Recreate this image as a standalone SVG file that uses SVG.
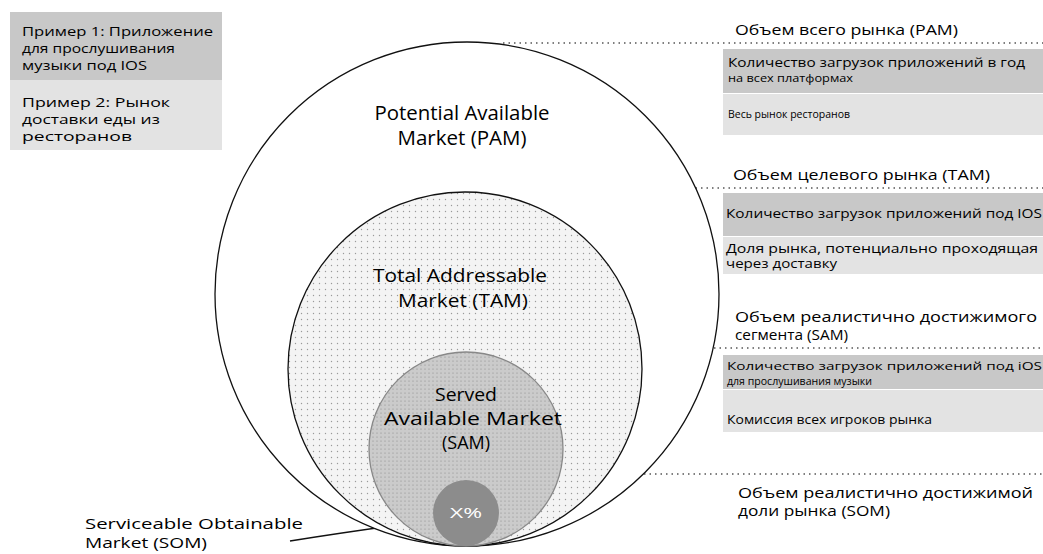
<svg xmlns="http://www.w3.org/2000/svg" width="1043" height="554" viewBox="0 0 1043 554">
<defs>
<style>
text{font-family:"Open Sans","DejaVu Sans",sans-serif;fill:#000}
.c{font-size:20px;text-anchor:middle}
.t{font-size:19px;text-anchor:middle}
.s{font-size:18px;text-anchor:middle}
.h{font-size:15px}
.b{font-size:12px}
.l{font-size:13.5px}
.dark{fill:#c8c8c8}
.light{fill:#e3e3e3}
.dot{stroke:#555;stroke-width:1.3;stroke-dasharray:1.5 4;fill:none}
</style>
<pattern id="stip" width="6" height="6" patternUnits="userSpaceOnUse">
<rect width="6" height="6" fill="#f4f4f4"/>
<circle cx="1.5" cy="1.5" r="0.7" fill="#9a9a9a"/>
</pattern>
<pattern id="stip2" width="4" height="4" patternUnits="userSpaceOnUse">
<rect width="4" height="4" fill="#cbcbcb"/>
<circle cx="1" cy="1" r="0.6" fill="#8a8a8a"/>
</pattern>
</defs>
<rect width="1043" height="554" fill="#fff"/>

<g id="examples">
<rect class="dark" x="10" y="12" width="212" height="68"/>
<rect class="light" x="10" y="80" width="212" height="70"/>
<text class="l" x="22" y="36" textLength="191" lengthAdjust="spacingAndGlyphs">Пример 1: Приложение</text>
<text class="l" x="22" y="53" textLength="153" lengthAdjust="spacingAndGlyphs">для прослушивания</text>
<text class="l" x="22" y="70" textLength="125" lengthAdjust="spacingAndGlyphs">музыки под IOS</text>
<text class="l" x="22" y="107" textLength="148" lengthAdjust="spacingAndGlyphs">Пример 2: Рынок</text>
<text class="l" x="22" y="124" textLength="138" lengthAdjust="spacingAndGlyphs">доставки еды из</text>
<text class="l" x="22" y="141" textLength="110" lengthAdjust="spacingAndGlyphs">ресторанов</text>
</g>

<g id="connectors">
<line class="dot" x1="503" y1="43" x2="1043" y2="43"/>
<line class="dot" x1="503" y1="188" x2="1043" y2="188"/>
<line class="dot" x1="483" y1="348" x2="1043" y2="348"/>
<line class="dot" x1="490" y1="474" x2="1043" y2="474"/>
<path d="M290,541 Q340,533 398,525" fill="none" stroke="#111" stroke-width="1.4"/>
</g>

<g id="pam">
<circle cx="467" cy="294" r="252" fill="#fff" stroke="#111" stroke-width="1.3"/>
<text class="c" x="462" y="120" textLength="175" lengthAdjust="spacingAndGlyphs">Potential Available</text>
<text class="c" x="462" y="145" textLength="129" lengthAdjust="spacingAndGlyphs">Market (PAM)</text>
</g>

<g id="tam">
<circle cx="465" cy="369" r="177" fill="url(#stip)" stroke="#111" stroke-width="1.3"/>
<text class="t" x="460" y="282" textLength="174" lengthAdjust="spacingAndGlyphs">Total Addressable</text>
<text class="t" x="463" y="307" textLength="130" lengthAdjust="spacingAndGlyphs">Market (TAM)</text>
</g>

<g id="sam">
<circle cx="466" cy="449" r="97" fill="url(#stip2)" stroke="#888" stroke-width="1.3"/>
<text class="s" x="466" y="401" textLength="62" lengthAdjust="spacingAndGlyphs">Served</text>
<text class="s" x="473" y="425" textLength="178" lengthAdjust="spacingAndGlyphs">Available Market</text>
<text class="s" x="466" y="449" textLength="48" lengthAdjust="spacingAndGlyphs">(SAM)</text>
</g>

<g id="som">
<circle cx="466" cy="513" r="33" fill="#8c8c8c"/>
<text x="466" y="518" style="font-size:14px;fill:#fff;text-anchor:middle" textLength="32" lengthAdjust="spacingAndGlyphs">X%</text>
</g>

<g id="som-label">
<text x="85" y="529" style="font-size:15px" textLength="218" lengthAdjust="spacingAndGlyphs">Serviceable Obtainable</text>
<text x="85" y="548" style="font-size:15px" textLength="122" lengthAdjust="spacingAndGlyphs">Market (SOM)</text>
</g>

<g id="pam-info">
<text class="h" x="735" y="35" textLength="223" lengthAdjust="spacingAndGlyphs">Объем всего рынка (PAM)</text>
<rect class="dark" x="723" y="49" width="320" height="44"/>
<rect class="light" x="723" y="94" width="320" height="41"/>
<text class="b" x="728" y="67" textLength="297" lengthAdjust="spacingAndGlyphs">Количество загрузок приложений в год</text>
<text class="b" x="728" y="82" style="font-size:11px" textLength="125" lengthAdjust="spacingAndGlyphs">на всех платформах</text>
<text class="b" x="728" y="118" style="font-size:11px" textLength="122" lengthAdjust="spacingAndGlyphs">Весь рынок ресторанов</text>
</g>

<g id="tam-info">
<text class="h" x="733" y="180" textLength="257" lengthAdjust="spacingAndGlyphs">Объем целевого рынка (TAM)</text>
<rect class="dark" x="723" y="193" width="320" height="43"/>
<rect class="light" x="723" y="237" width="320" height="37"/>
<text class="b" x="726" y="218" textLength="316" lengthAdjust="spacingAndGlyphs">Количество загрузок приложений под IOS</text>
<text class="b" x="726" y="253" textLength="312" lengthAdjust="spacingAndGlyphs">Доля рынка, потенциально проходящая</text>
<text class="b" x="726" y="268" textLength="111" lengthAdjust="spacingAndGlyphs">через доставку</text>
</g>

<g id="sam-info">
<text class="h" x="735" y="322" textLength="302" lengthAdjust="spacingAndGlyphs">Объем реалистично достижимого</text>
<text class="h" x="735" y="340" textLength="113" lengthAdjust="spacingAndGlyphs">сегмента (SAM)</text>
<rect class="dark" x="723" y="355" width="320" height="34"/>
<rect class="light" x="723" y="390" width="320" height="42"/>
<text class="b" x="727" y="370" style="font-size:11.5px" textLength="315" lengthAdjust="spacingAndGlyphs">Количество загрузок приложений под iOS</text>
<text class="b" x="727" y="385" style="font-size:10.5px" textLength="145" lengthAdjust="spacingAndGlyphs">для прослушивания музыки</text>
<text class="b" x="727" y="424" textLength="205" lengthAdjust="spacingAndGlyphs">Комиссия всех игроков рынка</text>
</g>

<g id="som-info">
<text class="h" x="738" y="498" textLength="295" lengthAdjust="spacingAndGlyphs">Объем реалистично достижимой</text>
<text class="h" x="738" y="516" textLength="152" lengthAdjust="spacingAndGlyphs">доли рынка (SOM)</text>
</g>
</svg>
